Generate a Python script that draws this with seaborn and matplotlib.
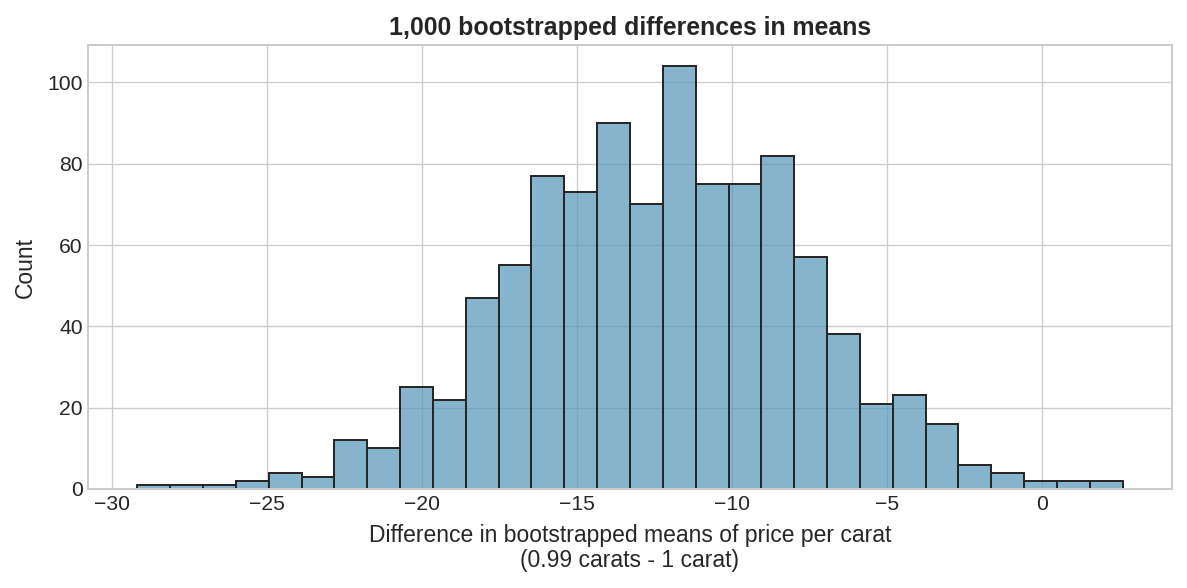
import numpy as np
import pandas as pd
import matplotlib
matplotlib.use("Agg")
import matplotlib.pyplot as plt
import seaborn as sns

# Histogram data
bin_start = -29.17
bin_width = 1.059
counts = [1, 1, 1, 2, 4, 3, 12, 10, 25, 22, 47, 55, 77, 73, 90, 70, 104,
          75, 75, 82, 57, 38, 21, 23, 16, 6, 4, 2, 2, 2]

edges = bin_start + bin_width * np.arange(len(counts) + 1)
centers = (edges[:-1] + edges[1:]) / 2
df = pd.DataFrame({"diff": centers, "n": counts})

plt.style.use("seaborn-v0_8-whitegrid")
plt.rcParams['font.family'] = ['Liberation Sans', 'DejaVu Sans']

fig, ax = plt.subplots(figsize=(10, 588 / 118.7), dpi=118.7)
fig.subplots_adjust(left=88 / 1187, right=1172 / 1187, top=1 - 45 / 588, bottom=1 - 489 / 588)

sns.histplot(data=df, x="diff", weights="n", bins=list(edges), ax=ax,
             color="#5495b8", alpha=0.7, edgecolor="#1a1a1a", linewidth=1.2)
for p in ax.patches:
    p.set_edgecolor((0.15, 0.15, 0.15, 1.0))

ax.set_title("1,000 bootstrapped differences in means", fontsize=15.1, fontweight="bold", pad=6)
ax.set_xlabel("Difference in bootstrapped means of price per carat\n(0.99 carats - 1 carat)",
              fontsize=13.9, labelpad=6, linespacing=1.1)
ax.set_ylabel("Count", fontsize=13.9, labelpad=6)
ax.tick_params(axis="x", labelsize=12.8, pad=3.8)
ax.tick_params(axis="y", labelsize=12.8, pad=3.2)
ax.set_xticks([-30, -25, -20, -15, -10, -5, 0])
ax.set_yticks([0, 20, 40, 60, 80, 100])
for s in ax.spines.values():
    s.set_visible(True)
    s.set_color("#cccccc")
    s.set_linewidth(1.2)

fig.savefig("out.png", dpi=118.7)
